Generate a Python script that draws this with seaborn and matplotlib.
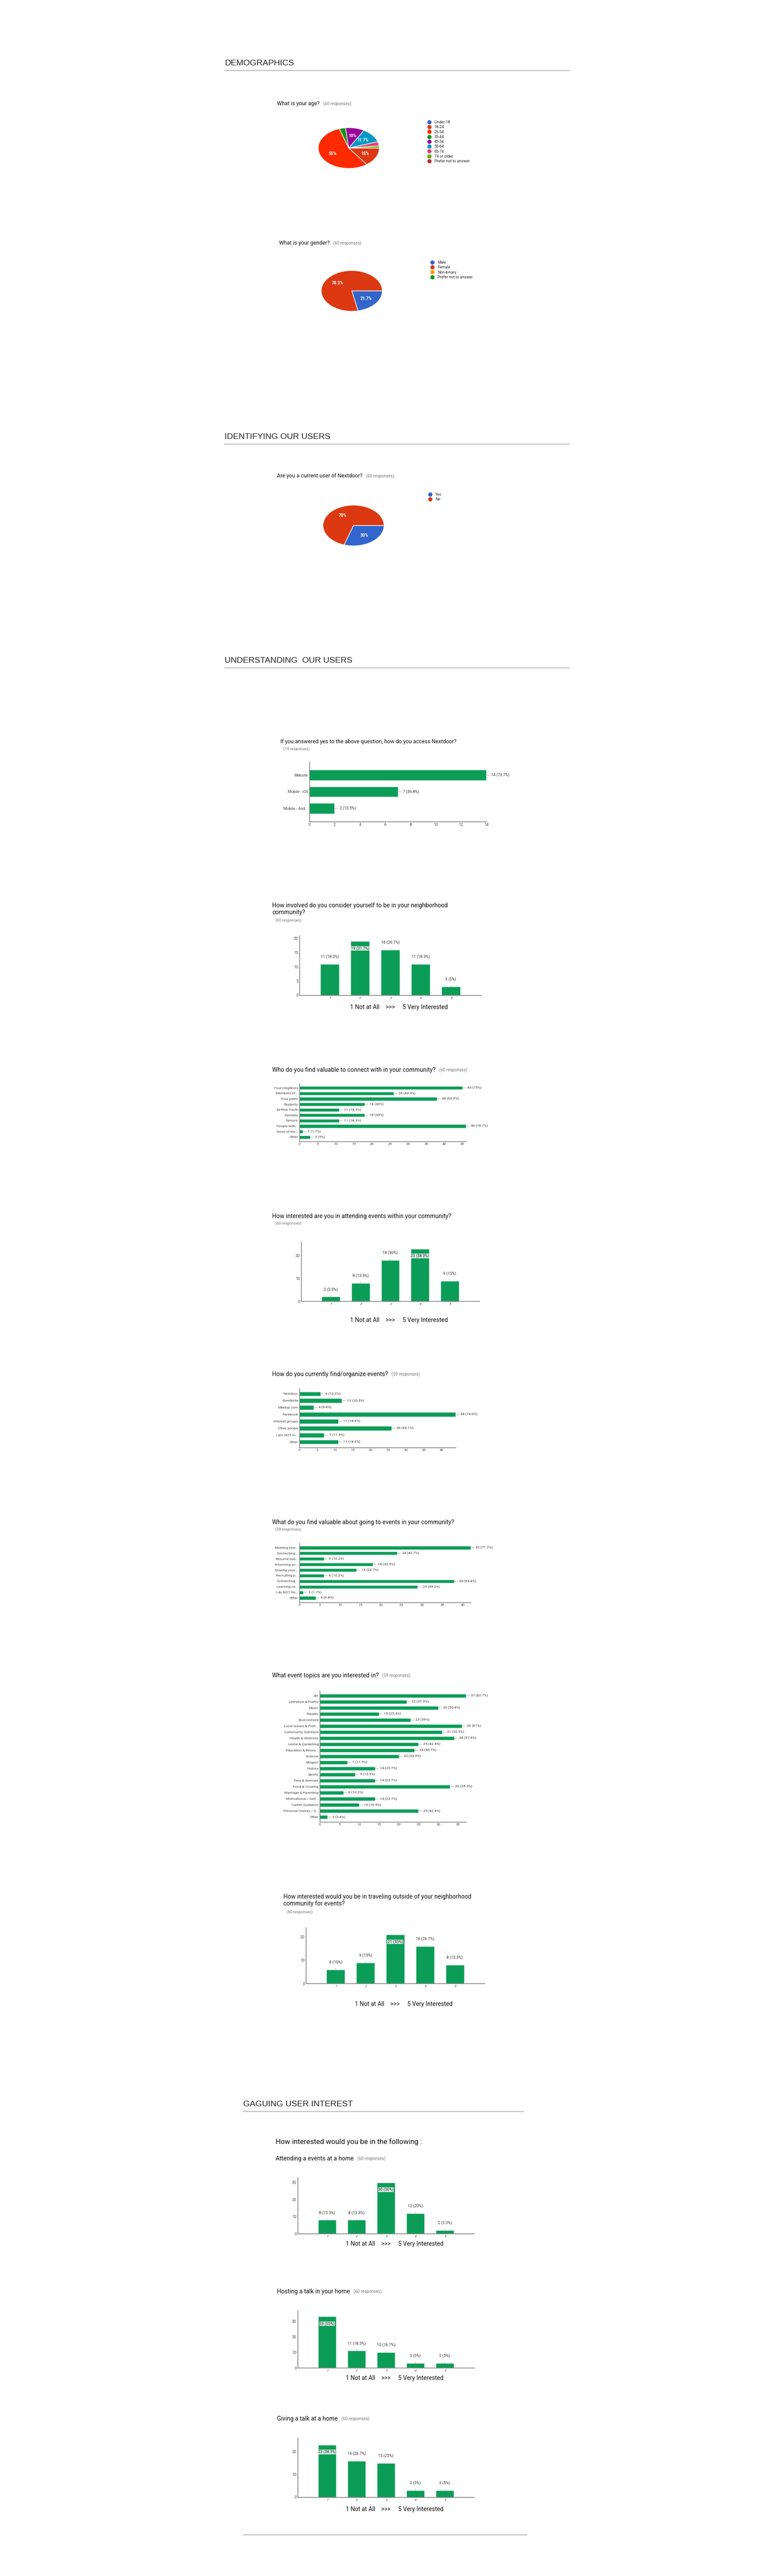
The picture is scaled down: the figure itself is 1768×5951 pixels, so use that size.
import matplotlib
matplotlib.use("Agg")
import matplotlib.pyplot as plt
import seaborn as sns
from matplotlib.lines import Line2D
from matplotlib.text import Annotation

sns.set_theme(style="white")
plt.rcParams["font.family"] = ["Roboto", "DejaVu Sans"]

W, H = 1768, 5951
GREEN = "#0b9d57"
PIE_COLORS = ["#3366cc", "#dc3912", "#ff9900", "#109618", "#990099",
              "#0099c6", "#dd4477", "#66aa00", "#b82e2e"]

# ---------------- datos ----------------
age_labels = ["Under 18", "18-24", "25-34", "35-44", "45-54", "55-64",
              "65-74", "74 or older", "Prefer not to answer"]
age_pct = [0, 15, 55, 3.3, 10, 11.7, 3.3, 1.7, 0]
age_colors = ["#3366cc", "#dc3912", "#ff2a00", "#109618", "#990099",
              "#0099c6", "#dd4477", "#66aa00", "#b82e2e"]

gender_labels = ["Male", "Female", "Non-binary", "Prefer not to answer"]
gender_pct = [21.7, 78.3, 0, 0]

user_labels = ["Yes", "No"]
user_pct = [30, 70]

access_labels = ["Website", "Mobile - iOS", "Mobile - And..."]
access_vals = [14, 7, 2]
access_pct = ["73.7%", "36.8%", "10.5%"]

involved_vals = [11, 19, 16, 11, 3]
involved_pct = ["18.3%", "31.7%", "26.7%", "18.3%", "5%"]

connect_labels = ["Your neighbors", "Members of...", "Your peers", "Students",
                  "At-Risk Youth", "Families", "Seniors", "People with...",
                  "None of the...", "Other"]
connect_vals = [45, 26, 38, 18, 11, 18, 11, 46, 1, 3]
connect_pct = ["75%", "43.3%", "63.3%", "30%", "18.3%", "30%", "18.3%",
               "76.7%", "1.7%", "5%"]

attend_vals = [2, 8, 18, 23, 9]
attend_pct = ["3.3%", "13.3%", "30%", "38.3%", "15%"]

find_labels = ["Nextdoor", "Eventbrite", "Meetup.com", "Facebook",
               "Interest groups", "Other people", "I am NOT in...", "Other"]
find_vals = [6, 12, 4, 44, 11, 26, 7, 11]
find_pct = ["10.2%", "20.3%", "6.8%", "74.6%", "18.6%", "44.1%", "11.9%", "18.6%"]

value_labels = ["Meeting new...", "Connecting...", "Resume buil...", "Informing yo...",
                "Sharing your...", "Recruiting p...", "Connecting...", "Learning ne...",
                "I do NOT fin...", "Other"]
value_vals = [42, 24, 6, 18, 14, 6, 38, 29, 1, 4]
value_pct = ["71.2%", "40.7%", "10.2%", "30.5%", "23.7%", "10.2%", "64.4%",
             "49.2%", "1.7%", "6.8%"]

topic_labels = ["Art", "Literature & Poetry", "Music", "Theater", "Environment",
                "Local Issues & Polit...", "Community Outreach", "Health & Wellness",
                "Home & Gardening", "Education & Resea...", "Science", "Religion",
                "History", "Sports", "Pets & Animals", "Food & Cooking",
                "Marriage & Parenting", "Motivational / Self...", "Career Guidance",
                "Personal History / S...", "Other"]
topic_vals = [37, 22, 30, 15, 23, 36, 31, 34, 25, 24, 20, 7, 14, 9, 14, 33, 6,
              14, 10, 25, 2]
topic_pct = ["62.7%", "37.3%", "50.8%", "25.4%", "39%", "61%", "52.5%", "57.6%",
             "42.4%", "40.7%", "33.9%", "11.9%", "23.7%", "15.3%", "23.7%", "55.9%",
             "10.2%", "23.7%", "16.9%", "42.4%", "3.4%"]

travel_vals = [6, 9, 21, 16, 8]
travel_pct = ["10%", "15%", "35%", "26.7%", "13.3%"]

home_vals = [8, 8, 30, 12, 2]
home_pct = ["13.3%", "13.3%", "50%", "20%", "3.3%"]

host_vals = [33, 11, 10, 3, 3]
host_pct = ["55%", "18.3%", "16.7%", "5%", "5%"]

talk_vals = [23, 16, 15, 3, 3]
talk_pct = ["38.3%", "26.7%", "25%", "5%", "5%"]

scale = ["1", "2", "3", "4", "5"]

fig = plt.figure(figsize=(W / 100, H / 100), dpi=100)


def axes_px(l, t, r, b):
    return fig.add_axes([l / W, 1 - b / H, (r - l) / W, (b - t) / H])


def header(text, x, y, x2):
    fig.text(x / W, 1 - y / H, text, fontsize=14, family=["Liberation Sans", "DejaVu Sans"],
             va="bottom", color="#222222")
    fig.add_artist(Line2D([x / W, x2 / W], [1 - (y + 8) / H] * 2, color="#bbbbbb", lw=1.5))


def title(text, x, y, resp=None, size=11.5):
    t = fig.text(x / W, 1 - y / H, text, fontsize=size, va="center", color="#111111")
    if resp:
        fig.add_artist(Annotation(resp, xy=(1, 0.5), xycoords=t, xytext=(6, 0),
                                  textcoords="offset points", va="center", fontsize=7,
                                  color="#777777"))
    return t


def sub(text, x, y):
    fig.text(x / W, 1 - y / H, text, fontsize=6.5, color="#777777", va="center")


def pie(vals, colors, labels, cx, cy, rx, ry, leg_x, leg_y):
    ax = axes_px(cx - rx, cy - ry, cx + rx, cy + ry)
    keep = [i for i, v in enumerate(vals) if v > 0]
    ax.pie([vals[i] for i in keep], colors=[colors[i] for i in keep],
           startangle=0, counterclock=False,
           autopct=lambda p: f"{p:.3g}%" if p >= 5 else "", pctdistance=0.6,
           wedgeprops=dict(edgecolor="white", linewidth=1),
           textprops=dict(color="white", fontsize=7, fontweight="bold"))
    ax.set_aspect("auto")
    ax.set_xlim(-1.02, 1.02)
    ax.set_ylim(-1.02, 1.02)
    handles = [Line2D([], [], marker="o", ls="", color=c, markersize=6) for c in colors]
    fig.legend(handles, labels, loc="upper left", bbox_to_anchor=(leg_x / W, 1 - leg_y / H),
               frameon=False, fontsize=6.5, handletextpad=0.3, labelspacing=0.25,
               borderaxespad=0, borderpad=0)


def style_axes(ax, fs):
    sns.despine(ax=ax)
    for s in ["left", "bottom"]:
        ax.spines[s].set_color("#666666")
        ax.spines[s].set_linewidth(1)
    ax.tick_params(axis="both", labelsize=fs, length=0, colors="#444444", pad=2)
    ax.set_xlabel("")
    ax.set_ylabel("")


def hbars(labels, vals, pct, l, t, r, b, xmax, step, fs=6.5):
    ax = axes_px(l, t, r, b)
    idx = [str(i) for i in range(len(vals))]
    sns.barplot(x=vals, y=idx, orient="h", color=GREEN, width=0.65, ax=ax, saturation=1)
    ax.set_xlim(0, xmax)
    ax.set_xticks(list(range(0, xmax + 1, step)))
    ax.set_yticks(range(len(labels)))
    ax.set_yticklabels(labels)
    for i, v in enumerate(vals):
        ax.annotate(f"{v} ({pct[i]})", xy=(v, i), xytext=(8, 0), textcoords="offset points",
                    va="center", fontsize=fs, color="#333333",
                    arrowprops=dict(arrowstyle="-", color="#999999", lw=0.6, shrinkA=0, shrinkB=0))
    style_axes(ax, fs)
    ax.set_ylim(len(vals) - 0.2, -0.8)
    return ax


def vbars(vals, pct, l, t, r, b, ymax, yticks, xlabel_y):
    ax = axes_px(l, t, r, b)
    sns.barplot(x=scale, y=vals, color=GREEN, width=0.62, ax=ax, saturation=1)
    ax.set_xlim(-1, 5)
    ax.set_ylim(0, ymax)
    ax.set_yticks(yticks)
    top = max(vals)
    for i, v in enumerate(vals):
        if v == top:
            ax.annotate(f"{v} ({pct[i]})", xy=(i, v), xytext=(0, -12), textcoords="offset points",
                        ha="center", va="center", fontsize=6.5, color="#222222",
                        bbox=dict(boxstyle="square,pad=0.05", fc="white", ec="none", alpha=0.85),
                        arrowprops=dict(arrowstyle="-", color="#999999", lw=0.6, shrinkA=5, shrinkB=0))
        else:
            ax.annotate(f"{v} ({pct[i]})", xy=(i, v), xytext=(0, 12), textcoords="offset points",
                        ha="center", va="center", fontsize=6.5, color="#333333",
                        arrowprops=dict(arrowstyle="-", color="#999999", lw=0.6, shrinkA=4, shrinkB=0))
    style_axes(ax, 6.5)
    ax.tick_params(axis="x", labelrotation=-30, labelsize=5.5)
    fig.text(((l + r) / 2 + 20) / W, 1 - xlabel_y / H, "1 Not at All    >>>     5 Very Interested",
             fontsize=10, ha="center", va="center", color="#111111")
    return ax


# ---------------- DEMOGRAPHICS ----------------
header("DEMOGRAPHICS", 519, 155, 1316)
title("What is your age?", 640, 240, "(60 responses)", size=9)
pie(age_pct, age_colors, age_labels, 806, 342, 72, 48, 983, 278)

title("What is your gender?", 645, 562, "(60 responses)", size=9)
pie(gender_pct, PIE_COLORS, gender_labels, 813, 672, 72, 48, 990, 602)

header("IDENTIFYING OUR USERS", 519, 1018, 1316)
title("Are you a current user of Nextdoor?", 640, 1100, "(60 responses)", size=9)
pie(user_pct, PIE_COLORS, user_labels, 817, 1214, 72, 48, 985, 1138)

# ---------------- UNDERSTANDING ----------------
header("UNDERSTANDING  OUR USERS", 519, 1535, 1316)
title("If you answered yes to the above question, how do you access Nextdoor?", 648, 1713, size=9)
sub("(19 responses)", 655, 1730)
hbars(access_labels, access_vals, access_pct, 715, 1760, 1124, 1898, 14, 2)

title("How involved do you consider yourself to be in your neighborhood\ncommunity?", 629, 2100, size=10)
sub("(60 responses)", 636, 2126)
vbars(involved_vals, involved_pct, 692, 2161, 1112, 2299, 21, [0, 5, 10, 15, 20], 2327)

title("Who do you find valuable to connect with in your community?", 629, 2472, "(60 responses)", size=10)
hbars(connect_labels, connect_vals, connect_pct, 692, 2503, 1077, 2637, 46, 5, fs=6)

title("How interested are you in attending events within your community?", 629, 2810, size=10)
sub("(60 responses)", 636, 2826)
vbars(attend_vals, attend_pct, 696, 2869, 1108, 3006, 26, [0, 10, 20], 3050)

title("How do you currently find/organize events?", 629, 3175, "(59 responses)", size=10)
hbars(find_labels, find_vals, find_pct, 692, 3207, 1053, 3344, 44, 5, fs=6)

title("What do you find valuable about going to events in your community?", 629, 3517, size=10)
sub("(59 responses)", 636, 3533)
hbars(value_labels, value_vals, value_pct, 692, 3565, 1088, 3702, 42, 5, fs=6)

title("What event topics are you interested in?", 629, 3871, "(59 responses)", size=10)
hbars(topic_labels, topic_vals, topic_pct, 739, 3906, 1077, 4209, 37, 5, fs=6)

title("How interested would you be in traveling outside of your neighborhood\ncommunity for events?", 655, 4390, size=10)
sub("(60 responses)", 662, 4417)
vbars(travel_vals, travel_pct, 707, 4453, 1120, 4582, 24, [0, 10, 20], 4630)

# ---------------- GAGUING ----------------
header("GAGUING USER INTEREST", 562, 4870, 1210)
fig.text(637 / W, 1 - 4948 / H, "How interested would you be in the following :", fontsize=12,
         va="center", color="#111111")

title("Attending a events at a home", 637, 4987, "(60 responses)", size=10)
vbars(home_vals, home_pct, 688, 5030, 1096, 5160, 33, [0, 10, 20, 30], 5184)

title("Hosting a talk in your home", 640, 5294, "(60 responses)", size=10)
vbars(host_vals, host_pct, 688, 5337, 1096, 5470, 37, [0, 10, 20, 30], 5494)

title("Giving a talk at a home", 640, 5588, "(60 responses)", size=10)
vbars(talk_vals, talk_pct, 688, 5632, 1096, 5769, 26, [0, 10, 20], 5797)

fig.add_artist(Line2D([562 / W, 1218 / W], [1 - 5856 / H] * 2, color="#aaaaaa", lw=1.2))

fig.savefig("out.png", dpi=100, facecolor="white")
